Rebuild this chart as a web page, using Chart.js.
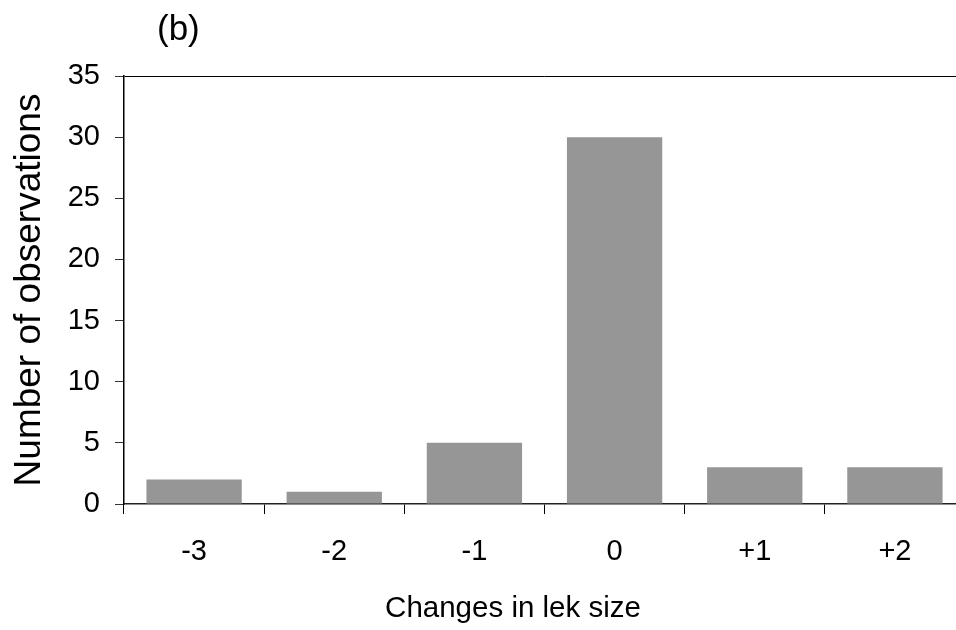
<!DOCTYPE html>
<html>
<head>
<meta charset="utf-8">
<script src="https://cdn.jsdelivr.net/npm/chart.js@4/dist/chart.umd.min.js"></script>
<style>
  html, body { margin: 0; padding: 0; background: #fff; overflow: hidden; }
  canvas { display: block; }
</style>
</head>
<body>
<canvas id="c" width="970" height="630"></canvas>
<script>
// Changes in lek size vs. number of observations
const categories = ['-3', '-2', '-1', '0', '+1', '+2'];
const observations = [2, 1, 5, 30, 3, 3];
const yTicks = [0, 5, 10, 15, 20, 25, 30, 35];

const panelLabel = '(b)';
const xTitle = 'Changes in lek size';
const yTitle = 'Number of observations';

const FONT = '"Liberation Sans", Arial, Helvetica, sans-serif';

// Panel letter above the plot and the horizontal axis caption
const captions = {
  id: 'captions',
  afterDraw(chart) {
    const ctx = chart.ctx;
    const area = chart.chartArea;
    ctx.save();
    ctx.fillStyle = '#000';
    ctx.font = '35px ' + FONT;
    ctx.textAlign = 'left';
    ctx.textBaseline = 'alphabetic';
    ctx.fillText(panelLabel, area.left + 33, area.top - 36);
    ctx.font = '29.5px ' + FONT;
    ctx.textAlign = 'center';
    ctx.textBaseline = 'middle';
    ctx.fillText(xTitle, area.left + 389, 609);
    ctx.restore();
  }
};

new Chart(document.getElementById('c'), {
  type: 'bar',
  data: {
    labels: categories,
    datasets: [{
      data: observations,
      backgroundColor: '#969696',
      borderWidth: 0,
      barPercentage: 0.68,
      categoryPercentage: 1.0
    }]
  },
  options: {
    responsive: false,
    animation: false,
    events: [],
    layout: { padding: { left: 0, top: 76, right: 5, bottom: 0 } },
    plugins: {
      legend: { display: false },
      tooltip: { enabled: false }
    },
    scales: {
      x: {
        type: 'category',
        afterFit(scale) { scale.height = 126; },
        grid: {
          offset: true,
          drawOnChartArea: false,
          drawTicks: true,
          tickLength: 10,
          tickColor: '#000',
          lineWidth: 1
        },
        border: { display: true, color: '#222', width: 1.5 },
        ticks: {
          color: '#000',
          font: { family: FONT, size: 29 },
          padding: 21,
          maxRotation: 0
        }
      },
      y: {
        min: 0,
        max: 35,
        afterFit(scale) { scale.width = 124; },
        afterBuildTicks(scale) {
          scale.ticks = yTicks.map(v => ({ value: v }));
        },
        grid: {
          drawOnChartArea: true,
          color: (c) => (c.tick && c.tick.value === 35 ? '#000' : 'rgba(0,0,0,0)'),
          tickColor: '#333',
          tickLength: 9,
          lineWidth: 1
        },
        border: { display: true, color: '#000', width: 1.5 },
        ticks: {
          color: '#000',
          font: { family: FONT, size: 29 },
          padding: 15
        },
        title: {
          display: true,
          text: yTitle,
          color: '#000',
          font: { family: FONT, size: 37, lineHeight: 1 },
          padding: { top: 11, bottom: 0 }
        }
      }
    }
  },
  plugins: [captions]
});
</script>
</body>
</html>
